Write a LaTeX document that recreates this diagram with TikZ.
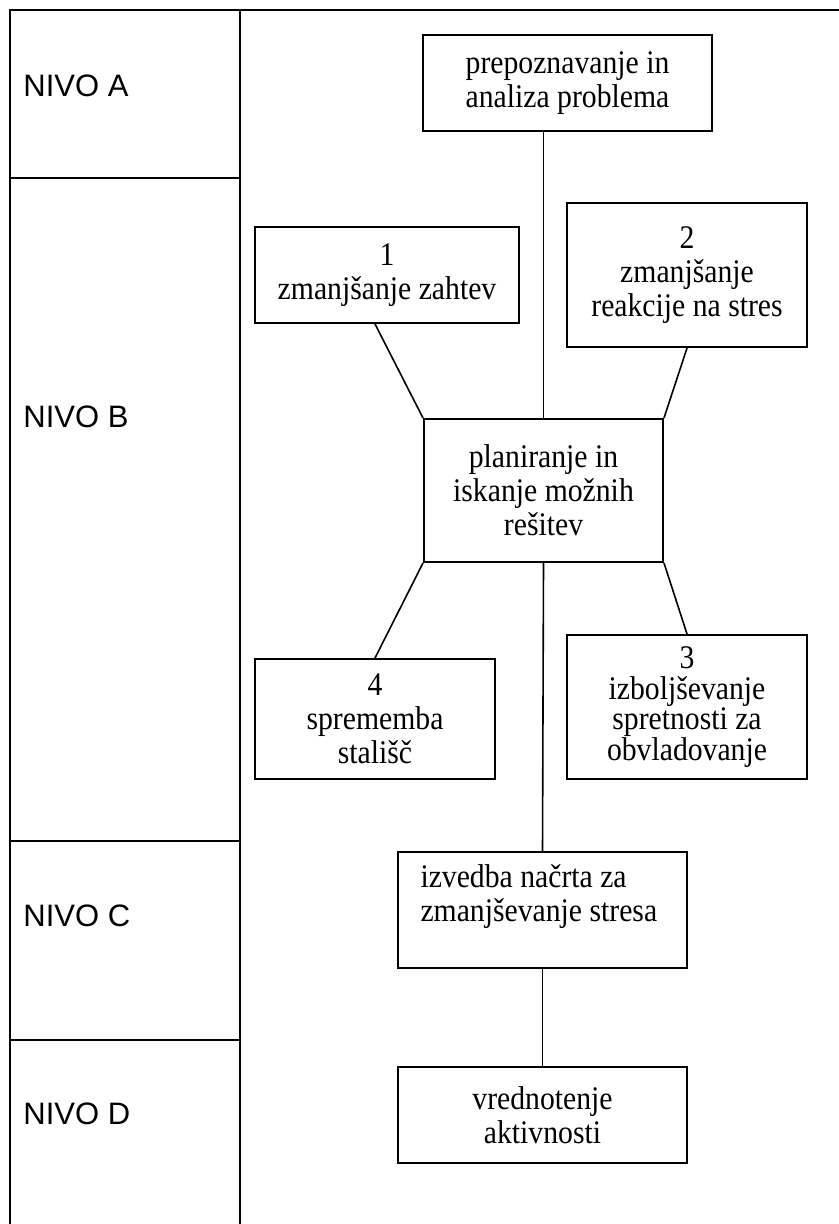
\documentclass[tikz,border=0pt]{standalone}
\usepackage{fontspec}
\setmainfont{Liberation Serif}[FakeStretch=0.9]
\newfontfamily\nivofont{Liberation Sans}

\tikzset{
  okvir/.style={draw, line width=1pt, inner sep=0pt, align=center,
    font=\fontsize{16.5}{17}\selectfont},
  nivo/.style={anchor=west, inner sep=0pt, font=\nivofont\fontsize{15.5}{17}\selectfont},
  tabela/.style={line width=1.2pt},
  vez/.style={line width=0.8pt}
}

\begin{document}
\begin{tikzpicture}[x=0.5pt, y=-0.5pt]
    \useasboundingbox (0,0) rectangle (839,1224);
    % tabela z nivoji
    \draw[tabela] (839,10) -- (10,10) -- (10,1224);
    \draw[tabela] (240,10) -- (240,1224);
    \draw[tabela] (10,178) -- (240,178);
    \draw[tabela] (10,841) -- (240,841);
    \draw[tabela] (10,1040) -- (240,1040);
    \node[nivo] (nivoA) at (23,86) {NIVO A};
    \node[nivo] (nivoB) at (23,416.5) {NIVO B};
    \node[nivo] (nivoC) at (23,916) {NIVO C};
    \node[nivo] (nivoD) at (23,1114) {NIVO D};
    % okvirji
    \node[okvir, minimum width=144.5pt, minimum height=48pt] (problem) at (567.5,83) {prepoznavanje in\\analiza problema};
    \node[okvir, minimum width=132pt, minimum height=48pt] (zahteve) at (387,275) {1\\zmanjšanje zahtev};
    \node[okvir, minimum width=120pt, minimum height=72pt] (reakcije) at (687,275) {2\\zmanjšanje\\reakcije na stres};
    \node[okvir, minimum width=119.5pt, minimum height=71.5pt] (plan) at (543.5,490.5) {planiranje in\\iskanje možnih\\rešitev};
    \node[okvir, minimum width=120pt, minimum height=60pt] (stalisca) at (375,719) {4\\sprememba\\stališč};
    \node[okvir, minimum width=120pt, minimum height=72pt, font=\fontsize{16.5}{15.2}\selectfont] (spretnosti) at (687,707) {3\\izboljševanje\\spretnosti za\\obvladovanje};
    \node[okvir, minimum width=144.5pt, minimum height=58pt] (izvedba) at (542.5,910) {\parbox{122pt}{izvedba načrta za\\zmanjševanje stresa\\~}};
    \node[okvir, minimum width=144.5pt, minimum height=48pt] (vrednotenje) at (542.5,1115) {vrednotenje\\aktivnosti};
    % povezave
    \draw[vez] (plan.north |- problem.south) -- (plan.north);
    \draw[vez] (stalisca.north |- zahteve.south) -- (plan.north west);
    \draw[vez] (reakcije.south) -- (plan.north east);
    \draw[vez] (plan.south west) -- (stalisca.north);
    \draw[vez] (plan.south east) -- (spretnosti.north);
    \draw[vez] (plan.south) -- (izvedba.north);
    \draw[vez] (izvedba.south) -- (vrednotenje.north);
\end{tikzpicture}
\end{document}
